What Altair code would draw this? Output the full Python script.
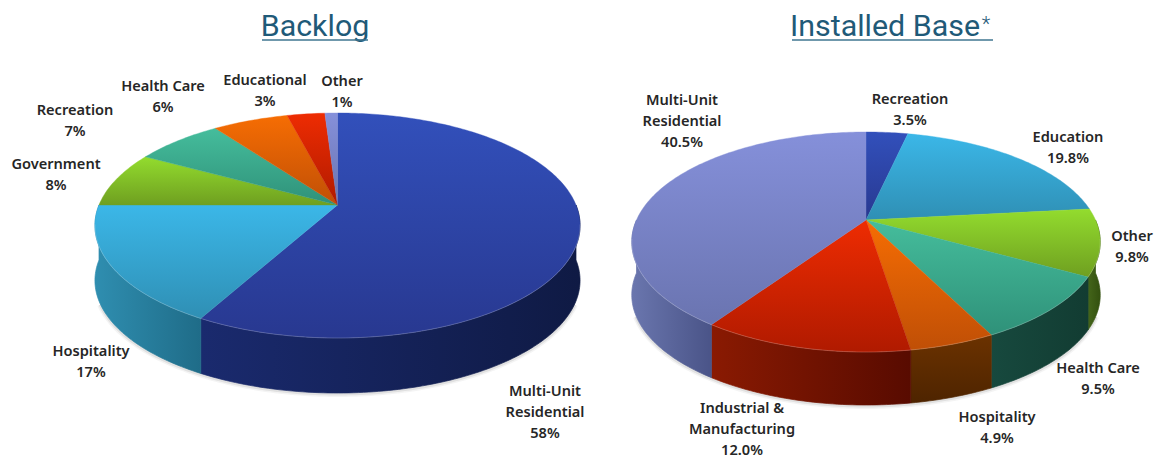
import math
import altair as alt
import pandas as pd

W, H = 1156, 458

# Shares, clockwise from twelve o'clock
backlog_names = [["Multi-Unit", "Residential"], ["Hospitality"], ["Government"],
                 ["Recreation"], ["Health Care"], ["Educational"], ["Other"]]
backlog_values = [58, 17, 8, 7, 6, 3, 1]
backlog_colors = ["blue", "sky", "green", "teal", "orange", "red", "violet"]

base_names = [["Recreation"], ["Education"], ["Other"], ["Health Care"], ["Hospitality"],
              ["Industrial  &", "Manufacturing"], ["Multi-Unit", "Residential"]]
base_values = [3.5, 19.8, 9.8, 9.5, 4.9, 12.0, 40.5]
base_colors = ["blue", "sky", "green", "teal", "orange", "red", "violet"]

# Label anchors: centre x and first-line y, in slice order
backlog_label_x = [545, 91, 56, 75, 163, 265, 342]
backlog_label_y = [392, 352, 165, 111, 87, 81, 82]
base_label_x = [910, 1068, 1132, 1098, 997, 742, 682]
base_label_y = [100, 138, 237, 369, 418, 409, 101]

# Colour ramps: top face (light, dark) and wall (light, dark)
ramps = {
    "blue": ("#3250bb", "#283890", "#1a2a6e", "#0f1a44"),
    "sky": ("#3bb7e8", "#2f8fb4", "#2f8eb0", "#1f6c88"),
    "green": ("#93dc2e", "#6f9f20", "#44651a", "#33500f"),
    "teal": ("#45bd9c", "#2f9179", "#17493e", "#123c32"),
    "orange": ("#f66d03", "#c04f06", "#6b3200", "#4e2400"),
    "red": ("#ee2c02", "#b01a00", "#8a1a02", "#580b00"),
    "violet": ("#8590da", "#6a74b0", "#6a76ae", "#4a5488"),
}


class Pie:
    """A tilted disc seen in perspective, with a solid wall under its rim."""

    def __init__(self, cx, cy, radius, far, near, depth):
        self.cx, self.cy, self.radius, self.depth = cx, cy, radius, depth
        self.k = (near - far) / (near + far)
        self.b = far * (1 + self.k)

    def point(self, deg, scale=1.0, drop=0.0):
        t = math.radians(deg)
        u, v = math.sin(t) * scale, math.cos(t) * scale
        w = 1 + self.k * v
        return self.cx + self.radius * u / w, self.cy - self.b * v / w + drop

    def arc(self, a, b, drop=0.0):
        steps = max(2, int(abs(b - a)) + 1)
        return [self.point(a + (b - a) * i / steps, drop=drop) for i in range(steps + 1)]


def outline(points):
    return pd.DataFrame({"x": [p[0] for p in points], "y": [p[1] for p in points],
                         "i": range(len(points))})


X = alt.X("x:Q", scale=alt.Scale(domain=[0, W]), axis=None)
Y = alt.Y("y:Q", scale=alt.Scale(domain=[H, 0]), axis=None)


def gradient(c1, c2, horizontal=False):
    return alt.Gradient(gradient="linear", x1=0, y1=0, x2=1 if horizontal else 0,
                        y2=0 if horizontal else 1,
                        stops=[alt.GradientStop(color=c1, offset=0),
                               alt.GradientStop(color=c2, offset=1)])


def polygon(points, fill, seam=0.0):
    # closing the ring back to its start lets a thin same-colour stroke hide seams
    ring = points + points[:1]
    return alt.Chart(outline(ring)).mark_line(fill=fill, stroke=fill, strokeWidth=seam,
                                              interpolate="linear").encode(
        x=X, y=Y, order="i:Q")


def curve(points, color, width, opacity):
    return alt.Chart(outline(points)).mark_line(color=color, strokeWidth=width, opacity=opacity,
                                                interpolate="linear").encode(
        x=X, y=Y, order="i:Q")


def draw_pie(pie, values, colors):
    layers = []
    # soft contact shadow under the rim
    for width, opacity in ((6, 0.05), (3, 0.09)):
        layers.append(curve(pie.arc(112, 248, drop=pie.depth + 1), "#222222", width, opacity))

    spans = []
    start = 0.0
    for value in values:
        spans.append((start, start + value * 3.6))
        start += value * 3.6

    # walls on the near half
    for (a, b), name in zip(spans, colors):
        lo, hi = max(a, 90), min(b, 270)
        if hi > lo:
            ramp = ramps[name]
            pts = pie.arc(lo, hi) + pie.arc(hi, lo, drop=pie.depth)
            layers.append(polygon(pts, gradient(ramp[2], ramp[3], horizontal=hi > 180 or lo < 150),
                                  seam=0.7))

    # top faces
    for (a, b), name in zip(spans, colors):
        ramp = ramps[name]
        layers.append(polygon([pie.point(0, scale=0)] + pie.arc(a, b), gradient(ramp[0], ramp[1]),
                              seam=0.4))

    # pale highlight along the near rim
    layers.append(curve(pie.arc(100, 260), "#ffffff", 1, 0.2))
    return layers


def labels(names, values, xs, ys, fmt):
    rows = []
    for lines, value, x, y in zip(names, values, xs, ys):
        for n, text in enumerate(lines + [fmt.format(value)]):
            rows.append({"x": x, "y": y + n * 21, "t": text})
    return alt.Chart(pd.DataFrame(rows)).mark_text(
        font="Noto Sans", fontSize=14.6, fontWeight=600, color="#262626",
        align="center", baseline="middle").encode(x=X, y=Y, text="t:N")


def heading(text, x, y, size=30.4, weight=400):
    return alt.Chart(pd.DataFrame({"x": [x], "y": [y], "t": [text]})).mark_text(
        font="Roboto", fontSize=size, fontWeight=weight, color="#1f5a78",
        align="center", baseline="alphabetic").encode(x=X, y=Y, text="t:N")


def underline(x1, x2, y):
    return curve([(x1, y), (x2, y)], "#3f7690", 1.6, 1)


left = Pie(337.5, 205, 238.5, 92, 133, 55)
right = Pie(866, 220, 229.5, 88, 132, 53)

parts = []
parts += draw_pie(left, backlog_values, backlog_colors)
parts += draw_pie(right, base_values, base_colors)
parts.append(labels(backlog_names, backlog_values, backlog_label_x, backlog_label_y, "{:.0f}%"))
parts.append(labels(base_names, base_values, base_label_x, base_label_y, "{:.1f}%"))
parts.append(heading("Backlog", 315, 36))
parts.append(underline(262, 368, 40))
parts.append(heading("Installed Base", 885, 36))
parts.append(heading("*", 986, 31, size=20, weight=300))
parts.append(underline(792, 993, 40))

chart = alt.layer(*parts).properties(
    width=W, height=H, padding=0, autosize=alt.AutoSizeParams(type="none"),
    background="#ffffff",
).configure_view(stroke=None)

chart.save("out.html", embed_options={"renderer": "svg", "actions": False})
